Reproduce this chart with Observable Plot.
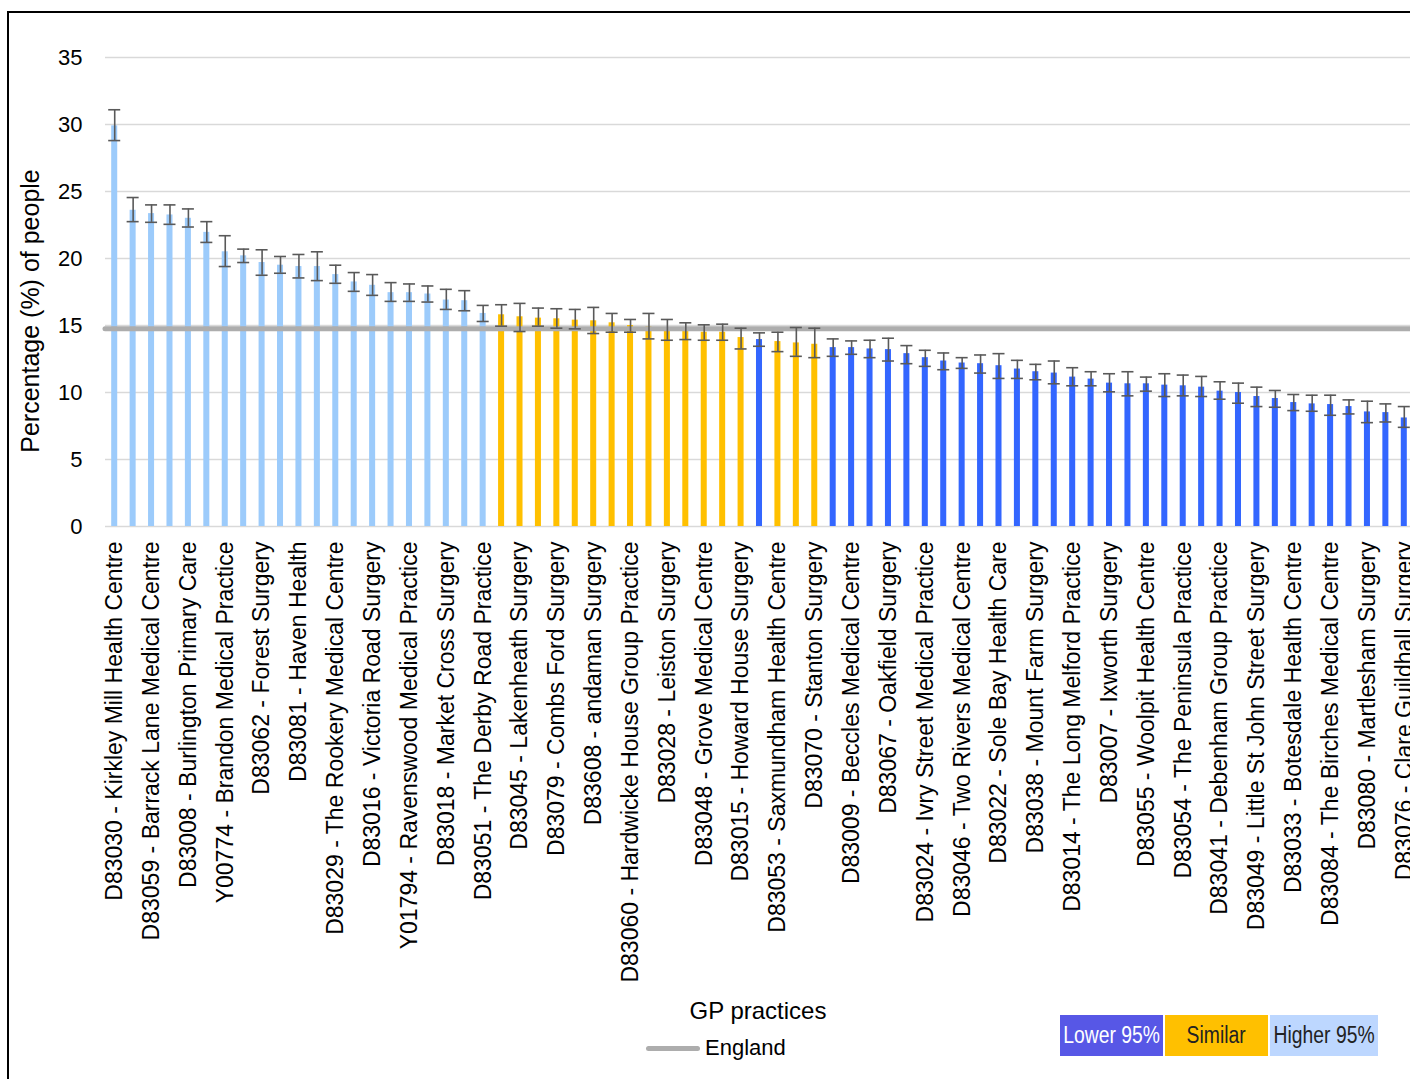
<!DOCTYPE html>
<html>
<head>
<meta charset="utf-8">
<script src="https://cdn.jsdelivr.net/npm/d3@7"></script>
<script src="https://cdn.jsdelivr.net/npm/@observablehq/plot@0.6"></script>
<style>
  html, body { margin: 0; padding: 0; background: #fff; overflow: hidden; width: 1410px; height: 1079px; }
  #frame { position: absolute; left: 7px; top: 11px; width: 1500px; height: 1200px; border: 2px solid #000; box-sizing: border-box; }
  #chart { position: absolute; left: 0; top: 0; width: 1440px; }
  #chart svg { max-width: none !important; width: 1440px !important; height: 1000px !important; }
  .txt { position: absolute; white-space: nowrap; font-family: "Liberation Sans", Arial, sans-serif; color: #000; }
  .box { position: absolute; top: 1015px; height: 41px; display: flex; align-items: center; justify-content: center; white-space: nowrap; overflow: hidden; font-family: "Liberation Sans Narrow", "Liberation Sans", Arial, sans-serif; font-size: 23px; }
  .box span { display: inline-block; transform: scaleX(0.84); }
</style>
</head>
<body>
<div id="frame"></div>
<div id="chart"></div>
<div class="txt" style="left:30px; top:311px; font-size:25px; transform: translate(-50%,-50%) rotate(-90deg);">Percentage (%) of people</div>
<div class="txt" style="left:758px; top:1011px; font-size:24px; transform: translate(-50%,-50%);">GP practices</div>
<div style="position:absolute; left:646px; top:1046px; width:54px; height:5px; border-radius:3px; background:#ADADAD;"></div>
<div class="txt" style="left:705px; top:1048px; font-size:22px; transform: translate(0,-50%);">England</div>
<div class="box" style="left:1060px; width:103px; background:#5757E6; color:#fff;"><span>Lower 95%</span></div>
<div class="box" style="left:1165px; width:103px; background:#FFC000; color:#222;"><span>Similar</span></div>
<div class="box" style="left:1270px; width:108px; background:#BDD7FF; color:#222;"><span>Higher 95%</span></div>
<script>
// Tick labels (only every other practice is labelled in the source chart)
const practiceLabels = [
  "D83030 - Kirkley Mill Health Centre", null,
  "D83059 - Barrack Lane Medical Centre", null,
  "D83008 - Burlington Primary Care", null,
  "Y00774 - Brandon Medical Practice", null,
  "D83062 - Forest Surgery", null,
  "D83081 - Haven Health", null,
  "D83029 - The Rookery Medical Centre", null,
  "D83016 - Victoria Road Surgery", null,
  "Y01794 - Ravenswood Medical Practice", null,
  "D83018 - Market Cross Surgery", null,
  "D83051 - The Derby Road Practice", null,
  "D83045 - Lakenheath Surgery", null,
  "D83079 - Combs Ford Surgery", null,
  "D83608 - andaman Surgery", null,
  "D83060 - Hardwicke House Group Practice", null,
  "D83028 - Leiston Surgery", null,
  "D83048 - Grove Medical Centre", null,
  "D83015 - Howard House Surgery", null,
  "D83053 - Saxmundham Health Centre", null,
  "D83070 - Stanton Surgery", null,
  "D83009 - Beccles Medical Centre", null,
  "D83067 - Oakfield Surgery", null,
  "D83024 - Ivry Street Medical Practice", null,
  "D83046 - Two Rivers Medical Centre", null,
  "D83022 - Sole Bay Health Care", null,
  "D83038 - Mount Farm Surgery", null,
  "D83014 - The Long Melford Practice", null,
  "D83007 - Ixworth Surgery", null,
  "D83055 - Woolpit Health Centre", null,
  "D83054 - The Peninsula Practice", null,
  "D83041 - Debenham Group Practice", null,
  "D83049 - Little St John Street Surgery", null,
  "D83033 - Botesdale Health Centre", null,
  "D83084 - The Birches Medical Centre", null,
  "D83080 - Martlesham Surgery", null,
  "D83076 - Clare Guildhall Surgery"
];

const values = [
  29.9, 23.6, 23.35, 23.25, 23.0, 21.95, 20.5, 20.2, 19.7, 19.5,
  19.4, 19.4, 18.8, 18.25, 18.0, 17.45, 17.45, 17.35, 16.9, 16.85,
  15.9, 15.8, 15.65, 15.55, 15.5, 15.4, 15.35, 15.2, 15.0, 14.9,
  14.65, 14.55, 14.5, 14.5, 14.1, 13.95, 13.8, 13.7, 13.6, 13.35,
  13.35, 13.25, 13.2, 12.9, 12.6, 12.35, 12.2, 12.15, 12.0, 11.75,
  11.55, 11.45, 11.15, 11.0, 10.7, 10.65, 10.65, 10.55, 10.5, 10.4,
  10.1, 10.0, 9.7, 9.55, 9.25, 9.15, 9.1, 8.95, 8.55, 8.5,
  8.1
];
const lower95 = [
  28.8, 22.75, 22.7, 22.55, 22.35, 21.2, 19.4, 19.7, 18.75, 18.9,
  18.55, 18.35, 18.15, 17.55, 17.25, 16.8, 16.8, 16.75, 16.2, 16.1,
  15.3, 14.95, 14.55, 14.95, 14.8, 14.75, 14.4, 14.5, 14.5, 14.0,
  13.9, 13.95, 13.9, 13.9, 13.25, 13.45, 13.05, 12.7, 12.6, 12.7,
  12.85, 12.6, 12.35, 12.15, 11.95, 11.7, 11.8, 11.45, 11.05, 11.05,
  10.95, 10.65, 10.5, 10.5, 10.05, 9.75, 10.1, 9.7, 9.75, 9.7,
  9.5, 9.2, 8.95, 8.9, 8.65, 8.6, 8.3, 8.4, 7.75, 7.8,
  7.4
];
const upper95 = [
  31.1, 24.55, 24.0, 24.0, 23.7, 22.75, 21.7, 20.7, 20.65, 20.15,
  20.3, 20.5, 19.5, 18.95, 18.8, 18.2, 18.1, 17.95, 17.7, 17.6,
  16.5, 16.55, 16.65, 16.3, 16.25, 16.2, 16.35, 15.9, 15.45, 15.9,
  15.45, 15.2, 15.05, 15.1, 14.8, 14.45, 14.5, 14.85, 14.8, 14.0,
  13.85, 13.9, 14.05, 13.5, 13.15, 12.95, 12.6, 12.8, 12.9, 12.4,
  12.1, 12.35, 11.85, 11.55, 11.4, 11.55, 11.15, 11.4, 11.3, 11.2,
  10.8, 10.7, 10.4, 10.15, 9.85, 9.8, 9.8, 9.45, 9.35, 9.15,
  8.95
];
const comparison = [
  "Higher","Higher","Higher","Higher","Higher","Higher","Higher","Higher","Higher","Higher",
  "Higher","Higher","Higher","Higher","Higher","Higher","Higher","Higher","Higher","Higher",
  "Higher","Similar","Similar","Similar","Similar","Similar","Similar","Similar","Similar","Similar",
  "Similar","Similar","Similar","Similar","Similar","Lower","Similar","Similar","Similar","Lower",
  "Lower","Lower","Lower","Lower","Lower","Lower","Lower","Lower","Lower","Lower",
  "Lower","Lower","Lower","Lower","Lower","Lower","Lower","Lower","Lower","Lower",
  "Lower","Lower","Lower","Lower","Lower","Lower","Lower","Lower","Lower","Lower",
  "Lower"
];
const englandValue = 14.75;
const yTicks = [0, 5, 10, 15, 20, 25, 30, 35];
const comparisonGroups = ["Lower", "Similar", "Higher"];
const comparisonColors = ["#3366FF", "#FFC000", "#9CCBFB"];

const data = values.map((v, i) => ({i, v, lo: lower95[i], hi: upper95[i], cmp: comparison[i]}));
const indices = data.map(d => d.i);
const labelledIdx = indices.filter(i => practiceLabels[i]);

const chart = Plot.plot({
  width: 1440,
  height: 1000,
  marginLeft: 105,
  marginRight: 27,
  marginTop: 57,
  marginBottom: 474,
  style: {fontFamily: "'Liberation Sans', Arial, sans-serif", background: "transparent", overflow: "visible", color: "#000", maxWidth: "none"},
  x: {type: "band", domain: indices, padding: 0, round: false, axis: null},
  y: {domain: [0, 35], axis: null},
  color: {domain: comparisonGroups, range: comparisonColors},
  marks: [
    Plot.gridY(yTicks, {stroke: "#D9D9D9", strokeOpacity: 1, strokeWidth: 1.4}),
    Plot.axisY(yTicks, {tickSize: 0, tickPadding: 23, fontSize: 22, label: null}),
    Plot.barY(data, {x: "i", y: "v", fill: "cmp", insetLeft: 6.2, insetRight: 6.2}),
    Plot.ruleY([englandValue], {x1: indices[0], x2: indices[indices.length - 1], stroke: "#ADADAD", strokeWidth: 5, strokeLinecap: "round"}),
    Plot.ruleX(data, {x: "i", y1: "lo", y2: "hi", stroke: "#595959", strokeWidth: 1.6}),
    Plot.tickY(data, {x: "i", y: "lo", stroke: "#595959", strokeWidth: 1.6, insetLeft: 3.2, insetRight: 3.2}),
    Plot.tickY(data, {x: "i", y: "hi", stroke: "#595959", strokeWidth: 1.6, insetLeft: 3.2, insetRight: 3.2}),
    Plot.axisX(labelledIdx, {tickFormat: i => practiceLabels[i], tickRotate: -90, tickSize: 0, tickPadding: 15, fontSize: 23, label: null})
  ]
});
document.getElementById("chart").appendChild(chart);
</script>
</body>
</html>
